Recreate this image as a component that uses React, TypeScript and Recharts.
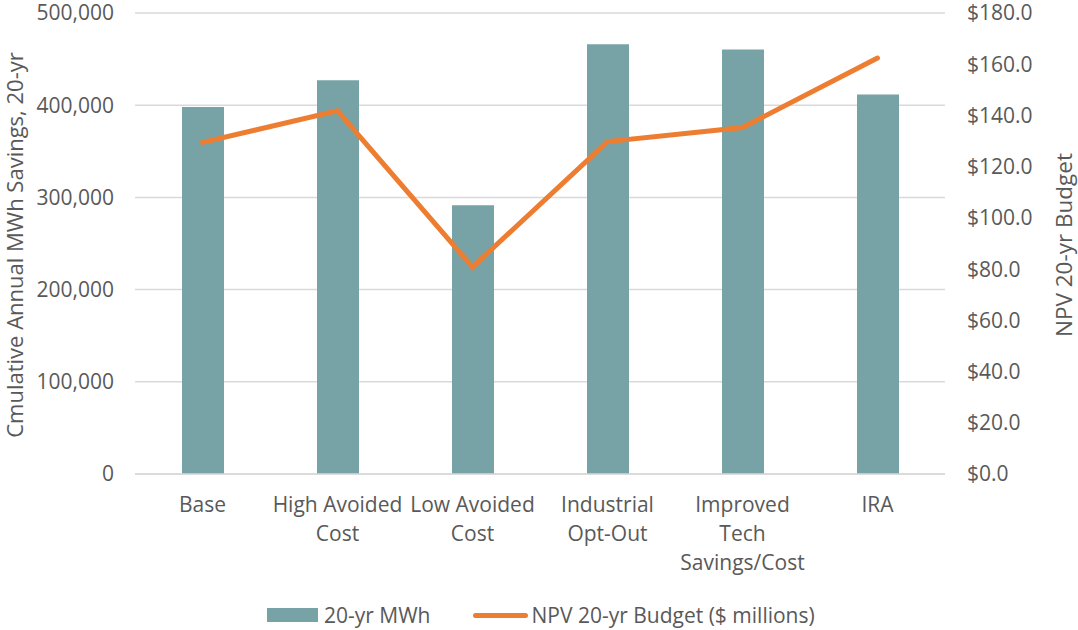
import { Bar, CartesianGrid, ComposedChart, Line, XAxis, YAxis } from "recharts";

document.body.style.margin = "0";

const categories = [
  "Base",
  "High Avoided\nCost",
  "Low Avoided\nCost",
  "Industrial\nOpt-Out",
  "Improved\nTech\nSavings/Cost",
  "IRA",
];
const mwhSavings = [398000, 427000, 291500, 466000, 460500, 411500];
const npvBudget = [129.5, 141.8, 80.8, 129.8, 135.3, 162.4];
const leftTicks = [0, 100000, 200000, 300000, 400000, 500000];
const rightTicks = [0, 20, 40, 60, 80, 100, 120, 140, 160, 180];

const data = categories.map((name, i) => ({
  name,
  mwh: mwhSavings[i],
  npv: npvBudget[i],
}));

const FONT = "'Open Sans', sans-serif";
const GRAY = "#595959";
const TEAL = "#77a3a7";
const ORANGE = "#ed7d31";
const FS = 21;

function CategoryTick({ x, y, payload }: any) {
  const lines = String(payload.value).split("\n");
  return (
    <text x={x} y={y} textAnchor="middle" fill={GRAY} fontSize={FS} fontFamily={FONT}>
      {lines.map((l, i) => (
        <tspan key={i} x={x} dy={i === 0 ? 30 : 29}>
          {l}
        </tspan>
      ))}
    </text>
  );
}

export default function App() {
  return (
    <div style={{ position: "relative", width: 1078, height: 630, background: "#fff", fontFamily: FONT }}>
      <ComposedChart
        width={1078}
        height={630}
        data={data}
        margin={{ top: 13, right: 0, left: 0, bottom: 0 }}
        barCategoryGap={0}
      >
        <CartesianGrid vertical={false} stroke="#d9d9d9" strokeWidth={1.5} yAxisId="left" />
        <XAxis
          dataKey="name"
          height={156}
          tick={<CategoryTick />}
          tickLine={false}
          axisLine={{ stroke: "#d9d9d9", strokeWidth: 1.5 }}
          interval={0}
        />
        <YAxis
          yAxisId="left"
          width={135}
          domain={[0, 500000]}
          ticks={leftTicks}
          tickFormatter={(v) => v.toLocaleString("en-US")}
          tick={{ fill: GRAY, fontSize: FS, fontFamily: FONT }}
          tickLine={false}
          axisLine={false}
          tickMargin={15}
          label={() => (
            <text
              x={17}
              y={245}
              transform="rotate(-90 17 245)"
              textAnchor="middle"
              dominantBaseline="middle"
              fill={GRAY}
              fontSize={22}
              fontFamily={FONT}
            >
              Cmulative Annual MWh Savings, 20-yr
            </text>
          )}
        />
        <YAxis
          yAxisId="right"
          orientation="right"
          width={133}
          domain={[0, 180]}
          ticks={rightTicks}
          tickFormatter={(v) => `$${v.toFixed(1)}`}
          tick={{ fill: GRAY, fontSize: FS, fontFamily: FONT, textAnchor: "start" }}
          tickLine={false}
          axisLine={false}
          tickMargin={16}
          label={() => (
            <text
              x={1066}
              y={245}
              transform="rotate(-90 1066 245)"
              textAnchor="middle"
              dominantBaseline="middle"
              fill={GRAY}
              fontSize={22.5}
              fontFamily={FONT}
            >
              NPV 20-yr Budget
            </text>
          )}
        />
        <Bar yAxisId="left" dataKey="mwh" fill={TEAL} barSize={42} isAnimationActive={false} />
        <Line
          yAxisId="right"
          dataKey="npv"
          type="linear"
          stroke={ORANGE}
          strokeWidth={5}
          strokeLinecap="round"
          dot={false}
          activeDot={false}
          isAnimationActive={false}
        />
      </ComposedChart>
      <div
        style={{
          position: "absolute",
          top: 601,
          left: 267,
          display: "flex",
          alignItems: "center",
          fontSize: FS,
          color: GRAY,
          whiteSpace: "nowrap",
        }}
      >
        <span style={{ display: "inline-block", width: 51, height: 14, background: TEAL, marginRight: 6 }} />
        <span>20-yr MWh</span>
        <span
          style={{
            display: "inline-block",
            width: 55,
            height: 5,
            borderRadius: 3,
            background: ORANGE,
            marginLeft: 42,
            marginRight: 4,
          }}
        />
        <span>NPV 20-yr Budget ($ millions)</span>
      </div>
    </div>
  );
}
